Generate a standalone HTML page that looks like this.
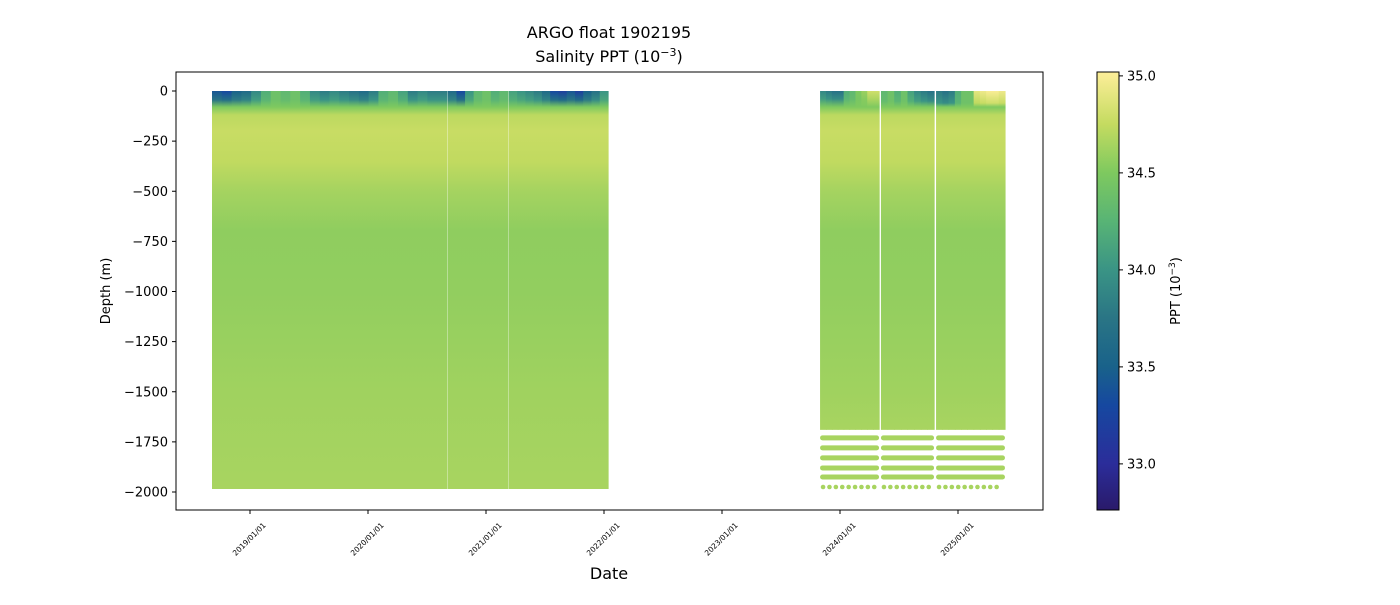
<!DOCTYPE html>
<html><head><meta charset="utf-8"><style>
body{margin:0;background:#fff;font-family:"Liberation Sans","DejaVu Sans",sans-serif;}
svg text{font-family:"DejaVu Sans","Liberation Sans",sans-serif;}
</style></head><body>
<svg id="chart" width="1400" height="600" xmlns="http://www.w3.org/2000/svg">
<defs id="defs"></defs>
<text x="609" y="38" font-size="16" text-anchor="middle">ARGO float 1902195</text>
<text x="609" y="62" font-size="16" text-anchor="middle">Salinity PPT (10<tspan dy="-6" font-size="11">−3</tspan><tspan dy="6">)</tspan></text>
<g id="plot"></g>
<rect x="176" y="72" width="867" height="438" fill="none" stroke="#000" stroke-width="1"/>
<g id="axes"></g>
<text x="609" y="579" font-size="16" text-anchor="middle">Date</text>
<text transform="translate(110,291) rotate(-90)" font-size="13" text-anchor="middle">Depth (m)</text>
<rect x="1097" y="72" width="22" height="438" fill="url(#cbgrad)" stroke="#000" stroke-width="1"/>
<g id="cbaxis"></g>
<text transform="translate(1180,291) rotate(-90)" font-size="13" text-anchor="middle">PPT (10<tspan dy="-5" font-size="9">−3</tspan><tspan dy="5">)</tspan></text>
</svg>
<script>
const segStart=[2018.678,2020.677,2021.194,2023.831,2024.347,2024.814];
const segEnd=[2020.669,2021.186,2022.034,2024.331,2024.797,2025.398];
const segMaxDepth=[1985,1985,1985,1690,1690,1690];
const segMld=[45,45,45,40,50,60];
const surfSal=[
 [33.4,33.3,33.5,33.6,33.9,34.2,34.4,34.3,34.4,34.2,33.9,33.8,33.9,33.8,33.7,33.6,33.8,34.2,34.3,34.1,33.8,33.9,33.8,33.8],
 [33.6,33.3,34.0,34.3,34.4,34.2,34.3],
 [34.1,34.0,33.9,33.8,33.6,33.3,33.2,33.4,33.2,33.5,33.7,34.0],
 [33.9,33.8,33.7,33.7,34.2,34.3,34.5,34.6,34.8,34.8],
 [34.3,34.4,34.2,34.4,34.1,33.9,33.8,33.7],
 [33.8,33.7,33.8,34.2,34.4,34.4,34.9,34.95,35.0,35.0,34.95]
];
const profDepth=[80,120,200,350,500,700,1000,1500,2000];
const profSal=[34.5,34.72,34.77,34.74,34.64,34.56,34.57,34.62,34.66];
const dotRowDepth=[1730,1780,1830,1880,1925];
const sparseRowDepth=1975;
const deepSal=34.65;
const yTicks=[0,-250,-500,-750,-1000,-1250,-1500,-1750,-2000];
const yTickLabels=["0","−250","−500","−750","−1000","−1250","−1500","−1750","−2000"];
const xTicks=[2019,2020,2021,2022,2023,2024,2025];
const xTickLabels=["2019/01/01","2020/01/01","2021/01/01","2022/01/01","2023/01/01","2024/01/01","2025/01/01"];
const cbTicks=[33.0,33.5,34.0,34.5,35.0];
const cmapVals=[32.76,33.0,33.3,33.5,33.75,34.0,34.25,34.5,34.75,35.02];
const cmapCols=["#2a1a6a","#2b2d9a","#1648a0","#19628a","#2a7585","#3a9485","#58b475","#7ec95f","#c4db60","#fdee99"];

const NS="http://www.w3.org/2000/svg";
const X=t=>250+(t-2019)*118;
const Y=d=>91+d*0.2005;
const CB=v=>72+(35.02-v)*194;
function hex(c){return [1,3,5].map(i=>parseInt(c.substr(i,2),16));}
function cmap(v){
 if(v<=cmapVals[0])return cmapCols[0];
 for(let i=1;i<cmapVals.length;i++){if(v<=cmapVals[i]){const f=(v-cmapVals[i-1])/(cmapVals[i]-cmapVals[i-1]);const a=hex(cmapCols[i-1]),b=hex(cmapCols[i]);return "rgb("+a.map((x,k)=>Math.round(x+(b[k]-x)*f)).join(",")+")";}}
 return cmapCols[cmapCols.length-1];
}
function el(tag,attrs,parent){const e=document.createElementNS(NS,tag);for(const k in attrs)e.setAttribute(k,attrs[k]);parent.appendChild(e);return e;}
const defs=document.getElementById('defs'),plot=document.getElementById('plot'),axes=document.getElementById('axes');
const cg=el('linearGradient',{id:'cbgrad',x1:0,y1:1,x2:0,y2:0},defs);
cmapVals.forEach((v,i)=>el('stop',{offset:(v-32.76)/(35.02-32.76),'stop-color':cmapCols[i]},cg));
let gid=0;
segStart.forEach((s,si)=>{
 const x0=X(s),x1=X(segEnd[si]);const arr=surfSal[si];const w=(x1-x0)/arr.length;
 arr.forEach((sv,j)=>{
  const id='g'+(gid++);
  const tot=segMaxDepth[si];
  const g=el('linearGradient',{id:id,gradientUnits:'userSpaceOnUse',x1:0,y1:Y(0),x2:0,y2:Y(tot)},defs);
  el('stop',{offset:0,'stop-color':cmap(sv)},g);
  el('stop',{offset:segMld[si]/tot,'stop-color':cmap((sv*2+34.4)/3)},g);
  profDepth.forEach((d,k)=>{if(d<tot&&d>segMld[si])el('stop',{offset:d/tot,'stop-color':cmap(profSal[k])},g);});
  el('stop',{offset:1,'stop-color':cmap(deepSal)},g);
  const r=el('rect',{x:x0+j*w,y:Y(0),width:w+0.6,height:Y(tot)-Y(0),fill:'url(#'+id+')'},plot);
  
  
 });
 if(segMaxDepth[si]<1900){
  dotRowDepth.forEach(d=>{
   const l=el('rect',{x:x0,y:Y(d)-2.5,width:x1-x0,height:5,rx:2.5,fill:cmap(deepSal)},plot);
   
   
  });
  for(let x=x0+3;x<x1-2;x+=6.4){
   const c=el('circle',{cx:x,cy:Y(sparseRowDepth),r:2.3,fill:cmap(deepSal)},plot);
   
   
  }
 }
});
yTicks.forEach((v,i)=>{
 el('line',{x1:172,x2:176,y1:Y(-v),y2:Y(-v),stroke:'#000'},axes);
 const t=el('text',{x:168,y:Y(-v)+4.5,'font-size':13,'text-anchor':'end'},axes);
 t.textContent=yTickLabels[i];
 
 
});
xTicks.forEach((v,i)=>{
 el('line',{x1:X(v),x2:X(v),y1:510,y2:514,stroke:'#000'},axes);
 const t=el('text',{transform:'translate('+(X(v)+1)+',541) rotate(-45)','font-size':7.5,'text-anchor':'middle'},axes);
 t.textContent=xTickLabels[i];
 
 
});
const cba=document.getElementById('cbaxis');
cbTicks.forEach(v=>{
 el('line',{x1:1119,x2:1123,y1:CB(v),y2:CB(v),stroke:'#000'},cba);
 const t=el('text',{x:1127,y:CB(v)+4.5,'font-size':13},cba);
 t.textContent=v.toFixed(1);
 
 
});
</script>
</body></html>
